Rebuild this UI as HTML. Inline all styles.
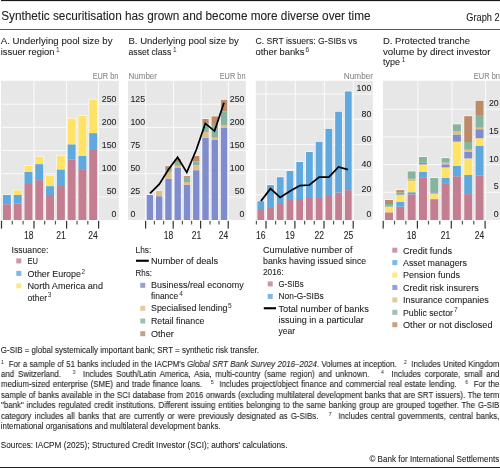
<!DOCTYPE html>
<html><head><meta charset="utf-8"><style>
html,body{margin:0;padding:0;background:#fff;}
body{width:500px;height:468px;position:relative;overflow:hidden;font-family:"Liberation Sans", sans-serif;}
svg{position:absolute;left:0;top:0;will-change:transform;}
svg text{font-family:"Liberation Sans", sans-serif;stroke:currentColor;stroke-width:0.08px;}
.fl{will-change:transform;transform-origin:0 0;position:absolute;left:0.8px;font-size:9.0px;line-height:10px;height:10px;color:#222;-webkit-text-stroke:0.1px #222;text-align:justify;text-align-last:justify;white-space:nowrap;}
.fl.nj{text-align:left;text-align-last:left;}
.fl sup{-webkit-text-stroke:0;font-size:5.8px;vertical-align:0;position:relative;top:-3.2px;}
</style></head><body>
<svg width="500" height="468" viewBox="0 0 500 468">
<rect x="1.00" y="0.00" width="499.00" height="1.10" fill="#1a1a1a"/>
<text x="1.2" y="20.4" font-size="12.0" fill="#222222" style="color:#222222" textLength="369.40" lengthAdjust="spacingAndGlyphs">Synthetic securitisation has grown and become more diverse over time</text>
<text x="466.3" y="20.8" font-size="10.0" fill="#222222" style="color:#222222" textLength="33.30" lengthAdjust="spacingAndGlyphs">Graph 2</text>
<rect x="0.00" y="29.00" width="500.00" height="1.00" fill="#5a5a5a"/>
<text x="0.7" y="44.2" font-size="9.8" fill="#222222" style="color:#222222" textLength="111.80" lengthAdjust="spacingAndGlyphs">A. Underlying pool size by</text>
<text x="0.7" y="54.5" font-size="9.8" fill="#222222" style="color:#222222" textLength="53.80" lengthAdjust="spacingAndGlyphs">issuer region</text>
<text x="56.0" y="52.0" font-size="6.6" fill="#333" style="stroke-width:0">1</text>
<text x="128.5" y="44.2" font-size="9.8" fill="#222222" style="color:#222222" textLength="110.25" lengthAdjust="spacingAndGlyphs">B. Underlying pool size by</text>
<text x="128.5" y="54.5" font-size="9.8" fill="#222222" style="color:#222222" textLength="42.75" lengthAdjust="spacingAndGlyphs">asset class</text>
<text x="173.0" y="52.0" font-size="6.6" fill="#333" style="stroke-width:0">1</text>
<text x="255.5" y="44.2" font-size="9.8" fill="#222222" style="color:#222222" textLength="101.50" lengthAdjust="spacingAndGlyphs">C. SRT issuers: G-SIBs vs</text>
<text x="255.5" y="54.5" font-size="9.8" fill="#222222" style="color:#222222" textLength="49.00" lengthAdjust="spacingAndGlyphs">other banks</text>
<text x="305.6" y="52.0" font-size="6.6" fill="#333" style="stroke-width:0">6</text>
<text x="383" y="44.2" font-size="9.8" fill="#222222" style="color:#222222" textLength="87.00" lengthAdjust="spacingAndGlyphs">D. Protected tranche</text>
<text x="383" y="54.5" font-size="9.8" fill="#222222" style="color:#222222" textLength="107.50" lengthAdjust="spacingAndGlyphs">volume by direct investor</text>
<text x="383" y="64.5" font-size="9.8" fill="#222222" style="color:#222222" textLength="17.00" lengthAdjust="spacingAndGlyphs">type</text>
<text x="401.7" y="62.0" font-size="6.6" fill="#333" style="stroke-width:0">1</text>
<rect x="1.00" y="80.80" width="117.80" height="139.20" fill="#e7e7e7"/>
<rect x="1.00" y="196.34" width="117.80" height="1.00" fill="#fbfbfb"/>
<rect x="1.00" y="173.18" width="117.80" height="1.00" fill="#fbfbfb"/>
<rect x="1.00" y="150.02" width="117.80" height="1.00" fill="#fbfbfb"/>
<rect x="1.00" y="126.86" width="117.80" height="1.00" fill="#fbfbfb"/>
<rect x="1.00" y="103.70" width="117.80" height="1.00" fill="#fbfbfb"/>
<rect x="33.50" y="80.80" width="1.00" height="139.20" fill="#fbfbfb"/>
<rect x="66.10" y="80.80" width="1.00" height="139.20" fill="#fbfbfb"/>
<rect x="98.00" y="80.80" width="1.00" height="139.20" fill="#fbfbfb"/>
<rect x="2.20" y="194.30" width="9.40" height="25.70" fill="#f8f8f8"/>
<rect x="2.90" y="204.20" width="8.00" height="15.80" fill="#c47e92"/>
<rect x="2.90" y="195.00" width="8.00" height="9.20" fill="#60a9de"/>
<rect x="12.99" y="189.70" width="9.40" height="30.30" fill="#f8f8f8"/>
<rect x="13.69" y="203.70" width="8.00" height="16.30" fill="#c47e92"/>
<rect x="13.69" y="194.90" width="8.00" height="8.80" fill="#60a9de"/>
<rect x="13.69" y="190.40" width="8.00" height="4.50" fill="#ffe366"/>
<rect x="23.78" y="165.30" width="9.40" height="54.70" fill="#f8f8f8"/>
<rect x="24.48" y="184.00" width="8.00" height="36.00" fill="#c47e92"/>
<rect x="24.48" y="172.00" width="8.00" height="12.00" fill="#60a9de"/>
<rect x="24.48" y="166.00" width="8.00" height="6.00" fill="#ffe366"/>
<rect x="34.57" y="156.00" width="9.40" height="64.00" fill="#f8f8f8"/>
<rect x="35.27" y="180.10" width="8.00" height="39.90" fill="#c47e92"/>
<rect x="35.27" y="164.10" width="8.00" height="16.00" fill="#60a9de"/>
<rect x="35.27" y="156.70" width="8.00" height="7.40" fill="#ffe366"/>
<rect x="45.36" y="175.00" width="9.40" height="45.00" fill="#f8f8f8"/>
<rect x="46.06" y="195.00" width="8.00" height="25.00" fill="#c47e92"/>
<rect x="46.06" y="186.10" width="8.00" height="8.90" fill="#60a9de"/>
<rect x="46.06" y="175.70" width="8.00" height="10.40" fill="#ffe366"/>
<rect x="56.15" y="154.90" width="9.40" height="65.10" fill="#f8f8f8"/>
<rect x="56.85" y="186.00" width="8.00" height="34.00" fill="#c47e92"/>
<rect x="56.85" y="169.40" width="8.00" height="16.60" fill="#60a9de"/>
<rect x="56.85" y="155.60" width="8.00" height="13.80" fill="#ffe366"/>
<rect x="66.94" y="117.90" width="9.40" height="102.10" fill="#f8f8f8"/>
<rect x="67.64" y="159.30" width="8.00" height="60.70" fill="#c47e92"/>
<rect x="67.64" y="144.30" width="8.00" height="15.00" fill="#60a9de"/>
<rect x="67.64" y="118.60" width="8.00" height="25.70" fill="#ffe366"/>
<rect x="77.73" y="115.30" width="9.40" height="104.70" fill="#f8f8f8"/>
<rect x="78.43" y="169.10" width="8.00" height="50.90" fill="#c47e92"/>
<rect x="78.43" y="155.80" width="8.00" height="13.30" fill="#60a9de"/>
<rect x="78.43" y="116.00" width="8.00" height="39.80" fill="#ffe366"/>
<rect x="88.52" y="98.90" width="9.40" height="121.10" fill="#f8f8f8"/>
<rect x="89.22" y="150.00" width="8.00" height="70.00" fill="#c47e92"/>
<rect x="89.22" y="133.10" width="8.00" height="16.90" fill="#60a9de"/>
<rect x="89.22" y="99.60" width="8.00" height="33.50" fill="#ffe366"/>
<rect x="0.90" y="220.80" width="1.20" height="7.80" fill="#333"/>
<rect x="33.40" y="220.80" width="1.20" height="7.80" fill="#333"/>
<rect x="66.00" y="220.80" width="1.20" height="7.80" fill="#333"/>
<rect x="98.00" y="220.80" width="1.20" height="7.80" fill="#333"/>
<rect x="11.69" y="220.80" width="1.20" height="3.70" fill="#555"/>
<rect x="22.48" y="220.80" width="1.20" height="3.70" fill="#555"/>
<rect x="44.06" y="220.80" width="1.20" height="3.70" fill="#555"/>
<rect x="54.85" y="220.80" width="1.20" height="3.70" fill="#555"/>
<rect x="76.43" y="220.80" width="1.20" height="3.70" fill="#555"/>
<rect x="87.22" y="220.80" width="1.20" height="3.70" fill="#555"/>
<text x="111.6" y="217.4" font-size="9.9" fill="#222222" style="color:#222222" textLength="4.90" lengthAdjust="spacingAndGlyphs">0</text>
<text x="106.7" y="194.24" font-size="9.9" fill="#222222" style="color:#222222" textLength="9.80" lengthAdjust="spacingAndGlyphs">50</text>
<text x="101.8" y="171.08" font-size="9.9" fill="#222222" style="color:#222222" textLength="14.70" lengthAdjust="spacingAndGlyphs">100</text>
<text x="101.8" y="147.92" font-size="9.9" fill="#222222" style="color:#222222" textLength="14.70" lengthAdjust="spacingAndGlyphs">150</text>
<text x="101.8" y="124.76" font-size="9.9" fill="#222222" style="color:#222222" textLength="14.70" lengthAdjust="spacingAndGlyphs">200</text>
<text x="101.8" y="101.60000000000001" font-size="9.9" fill="#222222" style="color:#222222" textLength="14.70" lengthAdjust="spacingAndGlyphs">250</text>
<text x="92.7" y="78.7" font-size="8.2" fill="#888888" style="color:#888888" textLength="25.60" lengthAdjust="spacingAndGlyphs">EUR bn</text>
<text x="24.0" y="238.5" font-size="10.0" fill="#222222" style="color:#222222" textLength="9.50" lengthAdjust="spacingAndGlyphs">18</text>
<text x="56.15" y="238.5" font-size="10.0" fill="#222222" style="color:#222222" textLength="9.50" lengthAdjust="spacingAndGlyphs">21</text>
<text x="88.25" y="238.5" font-size="10.0" fill="#222222" style="color:#222222" textLength="9.50" lengthAdjust="spacingAndGlyphs">24</text>
<rect x="128.00" y="80.80" width="117.80" height="139.20" fill="#e7e7e7"/>
<rect x="128.00" y="196.34" width="117.80" height="1.00" fill="#fbfbfb"/>
<rect x="128.00" y="173.18" width="117.80" height="1.00" fill="#fbfbfb"/>
<rect x="128.00" y="150.02" width="117.80" height="1.00" fill="#fbfbfb"/>
<rect x="128.00" y="126.86" width="117.80" height="1.00" fill="#fbfbfb"/>
<rect x="128.00" y="103.70" width="117.80" height="1.00" fill="#fbfbfb"/>
<rect x="145.30" y="80.80" width="1.00" height="139.20" fill="#fbfbfb"/>
<rect x="173.00" y="80.80" width="1.00" height="139.20" fill="#fbfbfb"/>
<rect x="200.60" y="80.80" width="1.00" height="139.20" fill="#fbfbfb"/>
<rect x="227.90" y="80.80" width="1.00" height="139.20" fill="#fbfbfb"/>
<rect x="146.00" y="194.30" width="7.80" height="25.70" fill="#f8f8f8"/>
<rect x="146.70" y="195.00" width="6.40" height="25.00" fill="#7f8ccd"/>
<rect x="155.27" y="190.10" width="7.80" height="29.90" fill="#f8f8f8"/>
<rect x="155.97" y="196.20" width="6.40" height="23.80" fill="#7f8ccd"/>
<rect x="155.97" y="190.80" width="6.40" height="5.40" fill="#dfbf88"/>
<rect x="164.54" y="165.40" width="7.80" height="54.60" fill="#f8f8f8"/>
<rect x="165.24" y="178.60" width="6.40" height="41.40" fill="#7f8ccd"/>
<rect x="165.24" y="172.20" width="6.40" height="6.40" fill="#dfbf88"/>
<rect x="165.24" y="170.10" width="6.40" height="2.10" fill="#87b49c"/>
<rect x="165.24" y="166.10" width="6.40" height="4.00" fill="#bc8b69"/>
<rect x="173.81" y="158.30" width="7.80" height="61.70" fill="#f8f8f8"/>
<rect x="174.51" y="168.00" width="6.40" height="52.00" fill="#7f8ccd"/>
<rect x="174.51" y="165.80" width="6.40" height="2.20" fill="#dfbf88"/>
<rect x="174.51" y="162.00" width="6.40" height="3.80" fill="#87b49c"/>
<rect x="174.51" y="159.00" width="6.40" height="3.00" fill="#bc8b69"/>
<rect x="183.08" y="175.40" width="7.80" height="44.60" fill="#f8f8f8"/>
<rect x="183.78" y="184.60" width="6.40" height="35.40" fill="#7f8ccd"/>
<rect x="183.78" y="182.00" width="6.40" height="2.60" fill="#dfbf88"/>
<rect x="183.78" y="177.80" width="6.40" height="4.20" fill="#87b49c"/>
<rect x="183.78" y="176.10" width="6.40" height="1.70" fill="#bc8b69"/>
<rect x="192.35" y="155.20" width="7.80" height="64.80" fill="#f8f8f8"/>
<rect x="193.05" y="170.20" width="6.40" height="49.80" fill="#7f8ccd"/>
<rect x="193.05" y="165.20" width="6.40" height="5.00" fill="#dfbf88"/>
<rect x="193.05" y="161.50" width="6.40" height="3.70" fill="#87b49c"/>
<rect x="193.05" y="155.90" width="6.40" height="5.60" fill="#bc8b69"/>
<rect x="201.62" y="118.30" width="7.80" height="101.70" fill="#f8f8f8"/>
<rect x="202.32" y="137.70" width="6.40" height="82.30" fill="#7f8ccd"/>
<rect x="202.32" y="131.90" width="6.40" height="5.80" fill="#dfbf88"/>
<rect x="202.32" y="123.00" width="6.40" height="8.90" fill="#87b49c"/>
<rect x="202.32" y="119.00" width="6.40" height="4.00" fill="#bc8b69"/>
<rect x="210.89" y="115.70" width="7.80" height="104.30" fill="#f8f8f8"/>
<rect x="211.59" y="139.90" width="6.40" height="80.10" fill="#7f8ccd"/>
<rect x="211.59" y="137.70" width="6.40" height="2.20" fill="#dfbf88"/>
<rect x="211.59" y="124.90" width="6.40" height="12.80" fill="#87b49c"/>
<rect x="211.59" y="116.40" width="6.40" height="8.50" fill="#bc8b69"/>
<rect x="220.16" y="99.10" width="7.80" height="120.90" fill="#f8f8f8"/>
<rect x="220.86" y="127.90" width="6.40" height="92.10" fill="#7f8ccd"/>
<rect x="220.86" y="125.40" width="6.40" height="2.50" fill="#dfbf88"/>
<rect x="220.86" y="111.60" width="6.40" height="13.80" fill="#87b49c"/>
<rect x="220.86" y="99.80" width="6.40" height="11.80" fill="#bc8b69"/>
<rect x="145.00" y="220.80" width="1.20" height="7.80" fill="#333"/>
<rect x="172.60" y="220.80" width="1.20" height="7.80" fill="#333"/>
<rect x="200.00" y="220.80" width="1.20" height="7.80" fill="#333"/>
<rect x="227.60" y="220.80" width="1.20" height="7.80" fill="#333"/>
<rect x="153.80" y="220.80" width="1.20" height="3.70" fill="#555"/>
<rect x="163.00" y="220.80" width="1.20" height="3.70" fill="#555"/>
<rect x="181.80" y="220.80" width="1.20" height="3.70" fill="#555"/>
<rect x="191.00" y="220.80" width="1.20" height="3.70" fill="#555"/>
<rect x="209.40" y="220.80" width="1.20" height="3.70" fill="#555"/>
<rect x="218.40" y="220.80" width="1.20" height="3.70" fill="#555"/>
<text x="130.4" y="217.4" font-size="9.9" fill="#222222" style="color:#222222" textLength="4.90" lengthAdjust="spacingAndGlyphs">0</text>
<text x="130.4" y="194.24" font-size="9.9" fill="#222222" style="color:#222222" textLength="9.80" lengthAdjust="spacingAndGlyphs">25</text>
<text x="130.4" y="171.08" font-size="9.9" fill="#222222" style="color:#222222" textLength="9.80" lengthAdjust="spacingAndGlyphs">50</text>
<text x="130.4" y="147.92" font-size="9.9" fill="#222222" style="color:#222222" textLength="9.80" lengthAdjust="spacingAndGlyphs">75</text>
<text x="130.4" y="124.76" font-size="9.9" fill="#222222" style="color:#222222" textLength="14.70" lengthAdjust="spacingAndGlyphs">100</text>
<text x="130.4" y="101.60000000000001" font-size="9.9" fill="#222222" style="color:#222222" textLength="14.70" lengthAdjust="spacingAndGlyphs">125</text>
<text x="239.6" y="217.4" font-size="9.9" fill="#222222" style="color:#222222" textLength="4.90" lengthAdjust="spacingAndGlyphs">0</text>
<text x="234.7" y="194.24" font-size="9.9" fill="#222222" style="color:#222222" textLength="9.80" lengthAdjust="spacingAndGlyphs">50</text>
<text x="229.8" y="171.08" font-size="9.9" fill="#222222" style="color:#222222" textLength="14.70" lengthAdjust="spacingAndGlyphs">100</text>
<text x="229.8" y="147.92" font-size="9.9" fill="#222222" style="color:#222222" textLength="14.70" lengthAdjust="spacingAndGlyphs">150</text>
<text x="229.8" y="124.76" font-size="9.9" fill="#222222" style="color:#222222" textLength="14.70" lengthAdjust="spacingAndGlyphs">200</text>
<text x="229.8" y="101.60000000000001" font-size="9.9" fill="#222222" style="color:#222222" textLength="14.70" lengthAdjust="spacingAndGlyphs">250</text>
<text x="128.5" y="78.7" font-size="8.2" fill="#888888" style="color:#888888" textLength="28.50" lengthAdjust="spacingAndGlyphs">Number</text>
<text x="219.7" y="78.7" font-size="8.2" fill="#888888" style="color:#888888" textLength="25.80" lengthAdjust="spacingAndGlyphs">EUR bn</text>
<polyline fill="none" stroke="#000" stroke-width="1.75" stroke-linejoin="miter" points="150.0,193.4 159.3,184.2 168.6,169.2 177.6,157.3 186.8,172.4 196.4,149.5 205.3,123.4 214.5,131.1 224.0,102.7"/>
<text x="163.85" y="238.5" font-size="10.0" fill="#222222" style="color:#222222" textLength="9.50" lengthAdjust="spacingAndGlyphs">18</text>
<text x="191.65" y="238.5" font-size="10.0" fill="#222222" style="color:#222222" textLength="9.50" lengthAdjust="spacingAndGlyphs">21</text>
<text x="218.85" y="238.5" font-size="10.0" fill="#222222" style="color:#222222" textLength="9.50" lengthAdjust="spacingAndGlyphs">24</text>
<rect x="255.80" y="80.80" width="117.00" height="139.20" fill="#e7e7e7"/>
<rect x="255.80" y="194.30" width="117.00" height="1.00" fill="#fbfbfb"/>
<rect x="255.80" y="169.10" width="117.00" height="1.00" fill="#fbfbfb"/>
<rect x="255.80" y="143.90" width="117.00" height="1.00" fill="#fbfbfb"/>
<rect x="255.80" y="118.70" width="117.00" height="1.00" fill="#fbfbfb"/>
<rect x="255.80" y="93.50" width="117.00" height="1.00" fill="#fbfbfb"/>
<rect x="265.50" y="80.80" width="1.00" height="139.20" fill="#fbfbfb"/>
<rect x="294.70" y="80.80" width="1.00" height="139.20" fill="#fbfbfb"/>
<rect x="323.90" y="80.80" width="1.00" height="139.20" fill="#fbfbfb"/>
<rect x="352.90" y="80.80" width="1.00" height="139.20" fill="#fbfbfb"/>
<rect x="256.70" y="200.60" width="8.20" height="19.40" fill="#f8f8f8"/>
<rect x="257.40" y="210.00" width="6.80" height="10.00" fill="#c47e92"/>
<rect x="257.40" y="201.30" width="6.80" height="8.70" fill="#60a9de"/>
<rect x="266.42" y="184.40" width="8.20" height="35.60" fill="#f8f8f8"/>
<rect x="267.12" y="208.00" width="6.80" height="12.00" fill="#c47e92"/>
<rect x="267.12" y="185.10" width="6.80" height="22.90" fill="#60a9de"/>
<rect x="276.14" y="176.50" width="8.20" height="43.50" fill="#f8f8f8"/>
<rect x="276.84" y="204.00" width="6.80" height="16.00" fill="#c47e92"/>
<rect x="276.84" y="177.20" width="6.80" height="26.80" fill="#60a9de"/>
<rect x="285.86" y="170.30" width="8.20" height="49.70" fill="#f8f8f8"/>
<rect x="286.56" y="200.00" width="6.80" height="20.00" fill="#c47e92"/>
<rect x="286.56" y="171.00" width="6.80" height="29.00" fill="#60a9de"/>
<rect x="295.58" y="161.30" width="8.20" height="58.70" fill="#f8f8f8"/>
<rect x="296.28" y="199.00" width="6.80" height="21.00" fill="#c47e92"/>
<rect x="296.28" y="162.00" width="6.80" height="37.00" fill="#60a9de"/>
<rect x="305.30" y="151.30" width="8.20" height="68.70" fill="#f8f8f8"/>
<rect x="306.00" y="198.00" width="6.80" height="22.00" fill="#c47e92"/>
<rect x="306.00" y="152.00" width="6.80" height="46.00" fill="#60a9de"/>
<rect x="315.02" y="141.10" width="8.20" height="78.90" fill="#f8f8f8"/>
<rect x="315.72" y="198.00" width="6.80" height="22.00" fill="#c47e92"/>
<rect x="315.72" y="141.80" width="6.80" height="56.20" fill="#60a9de"/>
<rect x="324.74" y="128.10" width="8.20" height="91.90" fill="#f8f8f8"/>
<rect x="325.44" y="196.00" width="6.80" height="24.00" fill="#c47e92"/>
<rect x="325.44" y="128.80" width="6.80" height="67.20" fill="#60a9de"/>
<rect x="334.46" y="111.00" width="8.20" height="109.00" fill="#f8f8f8"/>
<rect x="335.16" y="192.40" width="6.80" height="27.60" fill="#c47e92"/>
<rect x="335.16" y="111.70" width="6.80" height="80.70" fill="#60a9de"/>
<rect x="344.18" y="90.70" width="8.20" height="129.30" fill="#f8f8f8"/>
<rect x="344.88" y="190.10" width="6.80" height="29.90" fill="#c47e92"/>
<rect x="344.88" y="91.40" width="6.80" height="98.70" fill="#60a9de"/>
<rect x="265.40" y="220.80" width="1.20" height="7.80" fill="#333"/>
<rect x="294.30" y="220.80" width="1.20" height="7.80" fill="#333"/>
<rect x="323.40" y="220.80" width="1.20" height="7.80" fill="#333"/>
<rect x="352.60" y="220.80" width="1.20" height="7.80" fill="#333"/>
<rect x="255.80" y="220.80" width="1.20" height="3.70" fill="#555"/>
<rect x="275.00" y="220.80" width="1.20" height="3.70" fill="#555"/>
<rect x="284.70" y="220.80" width="1.20" height="3.70" fill="#555"/>
<rect x="304.00" y="220.80" width="1.20" height="3.70" fill="#555"/>
<rect x="313.70" y="220.80" width="1.20" height="3.70" fill="#555"/>
<rect x="333.00" y="220.80" width="1.20" height="3.70" fill="#555"/>
<rect x="342.80" y="220.80" width="1.20" height="3.70" fill="#555"/>
<text x="366.4" y="217.3" font-size="9.9" fill="#222222" style="color:#222222" textLength="4.90" lengthAdjust="spacingAndGlyphs">0</text>
<text x="361.5" y="192.10000000000002" font-size="9.9" fill="#222222" style="color:#222222" textLength="9.80" lengthAdjust="spacingAndGlyphs">20</text>
<text x="361.5" y="166.9" font-size="9.9" fill="#222222" style="color:#222222" textLength="9.80" lengthAdjust="spacingAndGlyphs">40</text>
<text x="361.5" y="141.70000000000002" font-size="9.9" fill="#222222" style="color:#222222" textLength="9.80" lengthAdjust="spacingAndGlyphs">60</text>
<text x="361.5" y="116.5" font-size="9.9" fill="#222222" style="color:#222222" textLength="9.80" lengthAdjust="spacingAndGlyphs">80</text>
<text x="356.6" y="91.3" font-size="9.9" fill="#222222" style="color:#222222" textLength="14.70" lengthAdjust="spacingAndGlyphs">100</text>
<text x="343.8" y="78.7" font-size="8.2" fill="#888888" style="color:#888888" textLength="29.20" lengthAdjust="spacingAndGlyphs">Number</text>
<polyline fill="none" stroke="#000" stroke-width="1.75" stroke-linejoin="miter" points="260.9,201.1 270.5,188.6 280.1,197.4 290.2,191.0 299.9,185.6 309.4,185.0 319.2,177.0 328.9,177.0 338.5,167.0 348.0,169.6"/>
<text x="256.05" y="238.5" font-size="10.0" fill="#222222" style="color:#222222" textLength="9.50" lengthAdjust="spacingAndGlyphs">16</text>
<text x="285.25" y="238.5" font-size="10.0" fill="#222222" style="color:#222222" textLength="9.50" lengthAdjust="spacingAndGlyphs">19</text>
<text x="314.45" y="238.5" font-size="10.0" fill="#222222" style="color:#222222" textLength="9.50" lengthAdjust="spacingAndGlyphs">22</text>
<text x="343.65" y="238.5" font-size="10.0" fill="#222222" style="color:#222222" textLength="9.50" lengthAdjust="spacingAndGlyphs">25</text>
<rect x="383.00" y="80.80" width="117.00" height="139.20" fill="#e7e7e7"/>
<rect x="383.00" y="191.82" width="117.00" height="1.00" fill="#fbfbfb"/>
<rect x="383.00" y="164.15" width="117.00" height="1.00" fill="#fbfbfb"/>
<rect x="383.00" y="136.47" width="117.00" height="1.00" fill="#fbfbfb"/>
<rect x="383.00" y="108.80" width="117.00" height="1.00" fill="#fbfbfb"/>
<rect x="417.40" y="80.80" width="1.00" height="139.20" fill="#fbfbfb"/>
<rect x="451.50" y="80.80" width="1.00" height="139.20" fill="#fbfbfb"/>
<rect x="485.10" y="80.80" width="1.00" height="139.20" fill="#fbfbfb"/>
<rect x="384.30" y="199.30" width="9.40" height="20.70" fill="#f8f8f8"/>
<rect x="385.00" y="212.30" width="8.00" height="7.70" fill="#c47e92"/>
<rect x="385.00" y="206.70" width="8.00" height="5.60" fill="#ffe366"/>
<rect x="385.00" y="204.00" width="8.00" height="2.70" fill="#87b49c"/>
<rect x="385.00" y="200.00" width="8.00" height="4.00" fill="#bc8b69"/>
<rect x="395.62" y="189.40" width="9.40" height="30.60" fill="#f8f8f8"/>
<rect x="396.32" y="206.70" width="8.00" height="13.30" fill="#c47e92"/>
<rect x="396.32" y="202.00" width="8.00" height="4.70" fill="#60a9de"/>
<rect x="396.32" y="195.30" width="8.00" height="6.70" fill="#ffe366"/>
<rect x="396.32" y="194.90" width="8.00" height="0.40" fill="#dfbf88"/>
<rect x="396.32" y="192.50" width="8.00" height="2.40" fill="#87b49c"/>
<rect x="396.32" y="190.10" width="8.00" height="2.40" fill="#bc8b69"/>
<rect x="406.94" y="170.70" width="9.40" height="49.30" fill="#f8f8f8"/>
<rect x="407.64" y="194.30" width="8.00" height="25.70" fill="#c47e92"/>
<rect x="407.64" y="192.20" width="8.00" height="2.10" fill="#60a9de"/>
<rect x="407.64" y="181.00" width="8.00" height="11.20" fill="#ffe366"/>
<rect x="407.64" y="178.80" width="8.00" height="2.20" fill="#dfbf88"/>
<rect x="407.64" y="171.40" width="8.00" height="7.40" fill="#87b49c"/>
<rect x="418.26" y="156.30" width="9.40" height="63.70" fill="#f8f8f8"/>
<rect x="418.96" y="177.20" width="8.00" height="42.80" fill="#c47e92"/>
<rect x="418.96" y="171.90" width="8.00" height="5.30" fill="#60a9de"/>
<rect x="418.96" y="164.40" width="8.00" height="7.50" fill="#ffe366"/>
<rect x="418.96" y="162.80" width="8.00" height="1.60" fill="#7f8ccd"/>
<rect x="418.96" y="157.00" width="8.00" height="5.80" fill="#87b49c"/>
<rect x="429.58" y="177.30" width="9.40" height="42.70" fill="#f8f8f8"/>
<rect x="430.28" y="199.80" width="8.00" height="20.20" fill="#c47e92"/>
<rect x="430.28" y="198.90" width="8.00" height="0.90" fill="#60a9de"/>
<rect x="430.28" y="193.50" width="8.00" height="5.40" fill="#ffe366"/>
<rect x="430.28" y="192.30" width="8.00" height="1.20" fill="#7f8ccd"/>
<rect x="430.28" y="178.00" width="8.00" height="14.30" fill="#87b49c"/>
<rect x="440.90" y="157.40" width="9.40" height="62.60" fill="#f8f8f8"/>
<rect x="441.60" y="183.10" width="8.00" height="36.90" fill="#c47e92"/>
<rect x="441.60" y="178.00" width="8.00" height="5.10" fill="#60a9de"/>
<rect x="441.60" y="167.40" width="8.00" height="10.60" fill="#ffe366"/>
<rect x="441.60" y="164.40" width="8.00" height="3.00" fill="#7f8ccd"/>
<rect x="441.60" y="162.60" width="8.00" height="1.80" fill="#dfbf88"/>
<rect x="441.60" y="158.10" width="8.00" height="4.50" fill="#87b49c"/>
<rect x="452.22" y="123.60" width="9.40" height="96.40" fill="#f8f8f8"/>
<rect x="452.92" y="176.20" width="8.00" height="43.80" fill="#c47e92"/>
<rect x="452.92" y="166.00" width="8.00" height="10.20" fill="#60a9de"/>
<rect x="452.92" y="141.60" width="8.00" height="24.40" fill="#ffe366"/>
<rect x="452.92" y="134.50" width="8.00" height="7.10" fill="#7f8ccd"/>
<rect x="452.92" y="131.50" width="8.00" height="3.00" fill="#dfbf88"/>
<rect x="452.92" y="124.30" width="8.00" height="7.20" fill="#87b49c"/>
<rect x="463.54" y="115.50" width="9.40" height="104.50" fill="#f8f8f8"/>
<rect x="464.24" y="194.10" width="8.00" height="25.90" fill="#c47e92"/>
<rect x="464.24" y="175.00" width="8.00" height="19.10" fill="#60a9de"/>
<rect x="464.24" y="158.40" width="8.00" height="16.60" fill="#ffe366"/>
<rect x="464.24" y="151.70" width="8.00" height="6.70" fill="#7f8ccd"/>
<rect x="464.24" y="149.70" width="8.00" height="2.00" fill="#dfbf88"/>
<rect x="464.24" y="142.00" width="8.00" height="7.70" fill="#87b49c"/>
<rect x="464.24" y="116.20" width="8.00" height="25.80" fill="#bc8b69"/>
<rect x="474.86" y="100.10" width="9.40" height="119.90" fill="#f8f8f8"/>
<rect x="475.56" y="175.70" width="8.00" height="44.30" fill="#c47e92"/>
<rect x="475.56" y="145.70" width="8.00" height="30.00" fill="#60a9de"/>
<rect x="475.56" y="138.20" width="8.00" height="7.50" fill="#ffe366"/>
<rect x="475.56" y="129.20" width="8.00" height="9.00" fill="#7f8ccd"/>
<rect x="475.56" y="127.70" width="8.00" height="1.50" fill="#dfbf88"/>
<rect x="475.56" y="115.80" width="8.00" height="11.90" fill="#87b49c"/>
<rect x="475.56" y="100.80" width="8.00" height="15.00" fill="#bc8b69"/>
<rect x="382.60" y="220.80" width="1.20" height="7.80" fill="#333"/>
<rect x="416.80" y="220.80" width="1.20" height="7.80" fill="#333"/>
<rect x="450.70" y="220.80" width="1.20" height="7.80" fill="#333"/>
<rect x="484.50" y="220.80" width="1.20" height="7.80" fill="#333"/>
<rect x="393.92" y="220.80" width="1.20" height="3.70" fill="#555"/>
<rect x="405.24" y="220.80" width="1.20" height="3.70" fill="#555"/>
<rect x="427.88" y="220.80" width="1.20" height="3.70" fill="#555"/>
<rect x="439.20" y="220.80" width="1.20" height="3.70" fill="#555"/>
<rect x="461.84" y="220.80" width="1.20" height="3.70" fill="#555"/>
<rect x="473.16" y="220.80" width="1.20" height="3.70" fill="#555"/>
<text x="493.8" y="217.1" font-size="9.9" fill="#222222" style="color:#222222" textLength="4.90" lengthAdjust="spacingAndGlyphs">0</text>
<text x="493.8" y="189.42499999999998" font-size="9.9" fill="#222222" style="color:#222222" textLength="4.90" lengthAdjust="spacingAndGlyphs">5</text>
<text x="488.9" y="161.75" font-size="9.9" fill="#222222" style="color:#222222" textLength="9.80" lengthAdjust="spacingAndGlyphs">10</text>
<text x="488.9" y="134.075" font-size="9.9" fill="#222222" style="color:#222222" textLength="9.80" lengthAdjust="spacingAndGlyphs">15</text>
<text x="488.9" y="106.39999999999999" font-size="9.9" fill="#222222" style="color:#222222" textLength="9.80" lengthAdjust="spacingAndGlyphs">20</text>
<text x="473.75" y="78.7" font-size="8.2" fill="#888888" style="color:#888888" textLength="26.25" lengthAdjust="spacingAndGlyphs">EUR bn</text>
<text x="406.85" y="238.5" font-size="10.0" fill="#222222" style="color:#222222" textLength="9.50" lengthAdjust="spacingAndGlyphs">18</text>
<text x="440.85" y="238.5" font-size="10.0" fill="#222222" style="color:#222222" textLength="9.50" lengthAdjust="spacingAndGlyphs">21</text>
<text x="474.85" y="238.5" font-size="10.0" fill="#222222" style="color:#222222" textLength="9.50" lengthAdjust="spacingAndGlyphs">24</text>
<text x="11.5" y="252.5" font-size="9.8" fill="#222222" style="color:#222222" textLength="37.00" lengthAdjust="spacingAndGlyphs">Issuance:</text>
<rect x="16.30" y="258.40" width="5.00" height="5.00" fill="#ce95a5"/>
<text x="27.5" y="264.25" font-size="9.8" fill="#222222" style="color:#222222" textLength="10.50" lengthAdjust="spacingAndGlyphs">EU</text>
<rect x="16.30" y="270.90" width="5.00" height="5.00" fill="#7cb8e3"/>
<text x="27.5" y="277" font-size="9.8" fill="#222222" style="color:#222222" textLength="53.50" lengthAdjust="spacingAndGlyphs">Other Europe</text>
<text x="81.6" y="273.6" font-size="6.6" fill="#333" style="stroke-width:0">2</text>
<rect x="16.30" y="283.30" width="5.00" height="5.00" fill="#ffe881"/>
<text x="27.5" y="289.1" font-size="9.8" fill="#222222" style="color:#222222" textLength="75.50" lengthAdjust="spacingAndGlyphs">North America and</text>
<text x="27.5" y="300.5" font-size="9.8" fill="#222222" style="color:#222222" textLength="19.50" lengthAdjust="spacingAndGlyphs">other</text>
<text x="47.8" y="297" font-size="6.6" fill="#333" style="stroke-width:0">3</text>
<text x="135.5" y="252.7" font-size="9.8" fill="#222222" style="color:#222222" textLength="15.75" lengthAdjust="spacingAndGlyphs">Lhs:</text>
<rect x="136.00" y="259.70" width="12.80" height="2.10" fill="#000"/>
<text x="151" y="264.25" font-size="9.8" fill="#222222" style="color:#222222" textLength="67.00" lengthAdjust="spacingAndGlyphs">Number of deals</text>
<text x="135.5" y="275.5" font-size="9.8" fill="#222222" style="color:#222222" textLength="16.50" lengthAdjust="spacingAndGlyphs">Rhs:</text>
<rect x="140.30" y="282.80" width="5.00" height="5.00" fill="#96a0d6"/>
<text x="151" y="288" font-size="9.8" fill="#222222" style="color:#222222" textLength="92.75" lengthAdjust="spacingAndGlyphs">Business/real economy</text>
<text x="151" y="299.25" font-size="9.8" fill="#222222" style="color:#222222" textLength="27.25" lengthAdjust="spacingAndGlyphs">finance</text>
<text x="179.3" y="295.8" font-size="6.6" fill="#333" style="stroke-width:0">4</text>
<rect x="140.30" y="305.80" width="5.00" height="5.00" fill="#e4ca9d"/>
<text x="151" y="311.25" font-size="9.8" fill="#222222" style="color:#222222" textLength="76.50" lengthAdjust="spacingAndGlyphs">Specialised lending</text>
<text x="227.9" y="308.0" font-size="6.6" fill="#333" style="stroke-width:0">5</text>
<rect x="140.30" y="318.50" width="5.00" height="5.00" fill="#9cc1ad"/>
<text x="151" y="323.75" font-size="9.8" fill="#222222" style="color:#222222" textLength="53.50" lengthAdjust="spacingAndGlyphs">Retail finance</text>
<rect x="140.30" y="331.20" width="5.00" height="5.00" fill="#c89f84"/>
<text x="151" y="336.5" font-size="9.8" fill="#222222" style="color:#222222" textLength="22.75" lengthAdjust="spacingAndGlyphs">Other</text>
<text x="263" y="253" font-size="9.8" fill="#222222" style="color:#222222" textLength="89.50" lengthAdjust="spacingAndGlyphs">Cumulative number of</text>
<text x="263" y="264.25" font-size="9.8" fill="#222222" style="color:#222222" textLength="103.25" lengthAdjust="spacingAndGlyphs">banks having issued since</text>
<text x="263" y="275" font-size="9.8" fill="#222222" style="color:#222222" textLength="20.75" lengthAdjust="spacingAndGlyphs">2016:</text>
<rect x="267.70" y="281.40" width="5.00" height="5.00" fill="#ce95a5"/>
<text x="278.5" y="286.75" font-size="9.8" fill="#222222" style="color:#222222" textLength="25.25" lengthAdjust="spacingAndGlyphs">G-SIBs</text>
<rect x="267.70" y="293.90" width="5.00" height="5.00" fill="#7cb8e3"/>
<text x="278.5" y="299.25" font-size="9.8" fill="#222222" style="color:#222222" textLength="45.25" lengthAdjust="spacingAndGlyphs">Non-G-SIBs</text>
<rect x="263.80" y="307.20" width="12.20" height="2.10" fill="#000"/>
<text x="278.5" y="311.7" font-size="9.8" fill="#222222" style="color:#222222" textLength="90.25" lengthAdjust="spacingAndGlyphs">Total number of banks</text>
<text x="278.5" y="323.2" font-size="9.8" fill="#222222" style="color:#222222" textLength="85.25" lengthAdjust="spacingAndGlyphs">issuing in a particular</text>
<text x="278.5" y="333.9" font-size="9.8" fill="#222222" style="color:#222222" textLength="16.50" lengthAdjust="spacingAndGlyphs">year</text>
<rect x="392.30" y="247.70" width="5.00" height="5.00" fill="#ce95a5"/>
<text x="403" y="253.5" font-size="9.8" fill="#222222" style="color:#222222" textLength="49.00" lengthAdjust="spacingAndGlyphs">Credit funds</text>
<rect x="392.30" y="260.12" width="5.00" height="5.00" fill="#7cb8e3"/>
<text x="403" y="265.92" font-size="9.8" fill="#222222" style="color:#222222" textLength="64.00" lengthAdjust="spacingAndGlyphs">Asset managers</text>
<rect x="392.30" y="272.54" width="5.00" height="5.00" fill="#ffe881"/>
<text x="403" y="278.34" font-size="9.8" fill="#222222" style="color:#222222" textLength="57.00" lengthAdjust="spacingAndGlyphs">Pension funds</text>
<rect x="392.30" y="284.96" width="5.00" height="5.00" fill="#96a0d6"/>
<text x="403" y="290.76" font-size="9.8" fill="#222222" style="color:#222222" textLength="75.75" lengthAdjust="spacingAndGlyphs">Credit risk insurers</text>
<rect x="392.30" y="297.38" width="5.00" height="5.00" fill="#e4ca9d"/>
<text x="403" y="303.18" font-size="9.8" fill="#222222" style="color:#222222" textLength="85.75" lengthAdjust="spacingAndGlyphs">Insurance companies</text>
<rect x="392.30" y="309.80" width="5.00" height="5.00" fill="#9cc1ad"/>
<text x="403" y="315.6" font-size="9.8" fill="#222222" style="color:#222222" textLength="50.00" lengthAdjust="spacingAndGlyphs">Public sector</text>
<rect x="392.30" y="322.22" width="5.00" height="5.00" fill="#c89f84"/>
<text x="403" y="328.02" font-size="9.8" fill="#222222" style="color:#222222" textLength="89.50" lengthAdjust="spacingAndGlyphs">Other or not disclosed</text>
<text x="454.0" y="312.0" font-size="6.6" fill="#333" style="stroke-width:0">7</text>
<text x="0.8" y="428.82000000000005" font-size="9.0" fill="#222222" style="color:#222222" textLength="219.70" lengthAdjust="spacingAndGlyphs">international organisations and multilateral development banks.</text>
<text x="0.8" y="353.0" font-size="9.0" fill="#222222" style="color:#222222" textLength="258.20" lengthAdjust="spacingAndGlyphs">G-SIB = global systemically important bank; SRT = synthetic risk transfer.</text>
<text x="0.8" y="448.0" font-size="9.0" fill="#222222" style="color:#222222" textLength="286.70" lengthAdjust="spacingAndGlyphs">Sources: IACPM (2025); Structured Credit Investor (SCI); authors' calculations.</text>
<text x="369.4" y="461.9" font-size="9.0" fill="#222222" style="color:#222222" textLength="129.80" lengthAdjust="spacingAndGlyphs">© Bank for International Settlements</text>
<rect x="0" y="467" width="500" height="1" fill="#1e1e1e"/>
</svg>
<div class="fl" style="top:358.70px;width:569.60px;transform:scaleX(0.875)"><sup>1</sup>&nbsp; For a sample of 51 banks included in the IACPM's <i>Global SRT Bank Survey 2016–2024</i>. Volumes at inception. &nbsp;&nbsp;<sup>2</sup>&nbsp; Includes United Kingdom</div><div class="fl" style="top:369.07px;width:569.60px;transform:scaleX(0.875)">and Switzerland. &nbsp;&nbsp;<sup>3</sup>&nbsp; Includes South/Latin America, Asia, multi-country (same region) and unknown. &nbsp;&nbsp;<sup>4</sup>&nbsp; Includes corporate, small and</div><div class="fl" style="top:379.44px;width:569.60px;transform:scaleX(0.875)">medium-sized enterprise (SME) and trade finance loans. &nbsp;&nbsp;<sup>5</sup>&nbsp; Includes project/object finance and commercial real estate lending. &nbsp;&nbsp;<sup>6</sup>&nbsp; For the</div><div class="fl" style="top:389.81px;width:569.60px;transform:scaleX(0.875)">sample of banks available in the SCI database from 2016 onwards (excluding multilateral development banks that are SRT issuers). The term</div><div class="fl" style="top:400.18px;width:569.60px;transform:scaleX(0.875)">"bank" includes regulated credit institutions. Different issuing entities belonging to the same banking group are grouped together. The G-SIB</div><div class="fl" style="top:410.55px;width:569.60px;transform:scaleX(0.875)">category includes all banks that are currently or were previously designated as G-SIBs. &nbsp;&nbsp;<sup>7</sup>&nbsp; Includes central governments, central banks,</div>
</body></html>
